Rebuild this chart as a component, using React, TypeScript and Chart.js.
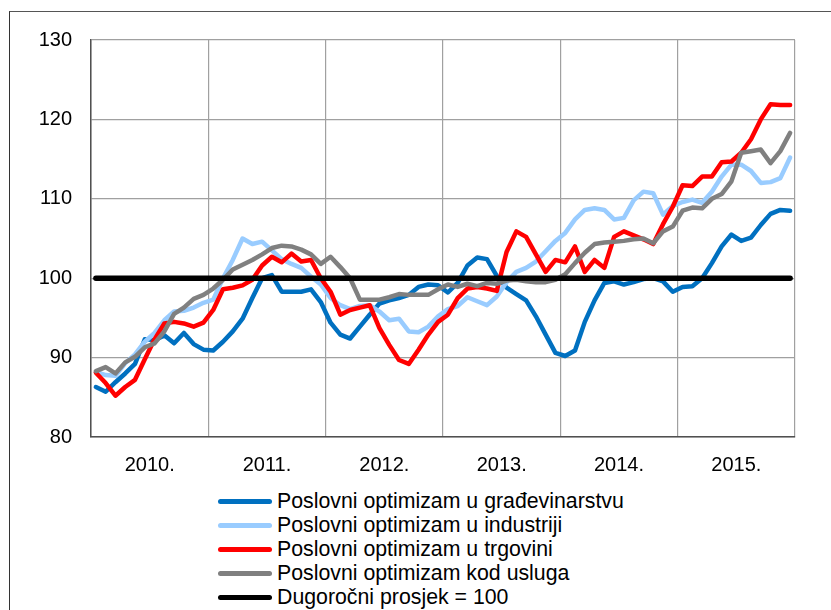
import React, { useEffect, useRef } from "react";
import { Chart, registerables } from "chart.js";

Chart.register(...registerables);

const years = ["2010.", "2011.", "2012.", "2013.", "2014.", "2015."];
const yTicks = [80, 90, 100, 110, 120, 130];

const seriesLabels = [
  "Poslovni optimizam u građevinarstvu",
  "Poslovni optimizam u industriji",
  "Poslovni optimizam u trgovini",
  "Poslovni optimizam kod usluga",
  "Dugoročni prosjek = 100",
];
const seriesColors = ["#0070C0", "#99CCFF", "#FF0000", "#808080", "#000000"];

const gradjevinarstvo = [
  86.3, 85.7, 86.9, 88.0, 89.2, 92.3, 92.2, 92.8, 91.8, 93.1, 91.7, 91.0,
  90.9, 92.0, 93.3, 94.9, 97.5, 100.0, 100.4, 98.3, 98.3, 98.3, 98.6, 97.0,
  94.4, 92.9, 92.4, 93.9, 95.4, 96.8, 97.2, 97.5, 97.9, 98.9, 99.2, 99.1,
  98.2, 99.4, 101.6, 102.6, 102.4, 100.3, 98.8, 98.0, 97.2, 95.2, 92.9, 90.6,
  90.2, 90.9, 94.5, 97.2, 99.4, 99.6, 99.2, 99.5, 99.9, 100.0, 99.6, 98.3,
  98.9, 99.0, 100.0, 101.9, 104.0, 105.5, 104.7, 105.1, 106.7, 108.1, 108.6, 108.5,
];
const industrija = [
  88.2, 87.8, 87.7, 89.3, 90.4, 92.0, 93.1, 94.7, 95.8, 95.9, 96.3, 96.9,
  97.3, 100.0, 102.3, 105.0, 104.3, 104.6, 103.5, 102.4, 101.8, 101.3, 100.2, 99.2,
  97.5, 96.6, 96.1, 96.5, 96.6, 95.8, 94.7, 94.9, 93.3, 93.2, 93.9, 95.2,
  96.1, 96.5, 97.6, 97.1, 96.6, 97.7, 99.5, 100.8, 101.3, 102.1, 103.4, 104.7,
  105.7, 107.4, 108.6, 108.8, 108.6, 107.4, 107.6, 109.8, 110.9, 110.7, 108.0, 109.1,
  109.6, 109.9, 109.5, 110.9, 112.8, 114.3, 114.3, 113.5, 112.0, 112.1, 112.6, 115.2,
];
const trgovina = [
  88.1, 86.8, 85.2, 86.3, 87.2, 89.8, 92.3, 94.3, 94.5, 94.3, 93.9, 94.4,
  96.0, 98.6, 98.8, 99.1, 99.8, 101.6, 102.7, 102.0, 103.1, 102.1, 102.3, 100.0,
  98.3, 95.4, 96.0, 96.3, 96.6, 93.7, 91.6, 89.7, 89.2, 91.0, 92.9, 94.5,
  95.4, 97.5, 98.7, 98.9, 98.7, 98.4, 103.3, 105.9, 105.2, 103.0, 100.8, 102.3,
  102.0, 104.0, 100.8, 102.3, 101.3, 105.2, 105.9, 105.4, 104.9, 104.3, 106.8, 109.0,
  111.7, 111.6, 112.8, 112.8, 114.6, 114.7, 115.8, 117.5, 120.0, 121.9, 121.8, 121.8,
];
const usluge = [
  88.3, 88.8, 88.0, 89.4, 90.1, 91.3, 91.8, 93.3, 95.5, 96.3, 97.4, 97.9,
  98.7, 99.8, 101.1, 101.7, 102.3, 103.0, 103.8, 104.1, 104.0, 103.6, 103.0, 101.8,
  102.7, 101.4, 100.0, 97.3, 97.3, 97.3, 97.6, 98.0, 97.9, 97.9, 97.9, 98.6,
  99.2, 98.9, 99.3, 99.0, 99.4, 99.3, 99.7, 99.8, 99.6, 99.5, 99.5, 99.8,
  100.5, 101.9, 103.2, 104.3, 104.5, 104.6, 104.7, 104.9, 105.0, 104.4, 105.9, 106.5,
  108.5, 108.9, 108.8, 110.0, 110.6, 112.2, 115.8, 116.0, 116.2, 114.5, 116.0, 118.3,
];
const prosjek = gradjevinarstvo.map(() => 100);

const allSeries = [gradjevinarstvo, industrija, trgovina, usluge, prosjek];

const FONT = "'Liberation Sans', Arial, sans-serif";

export default function App() {
  const ref = useRef<HTMLCanvasElement | null>(null);

  useEffect(() => {
    if (!ref.current) return;
    const chart = new Chart(ref.current, {
      type: "line",
      data: {
        datasets: allSeries.map((vals, s) => ({
          label: seriesLabels[s],
          data: vals.map((v, i) => ({ x: i + 0.5, y: v })),
          borderColor: seriesColors[s],
          backgroundColor: seriesColors[s],
          borderWidth: s === 4 ? 5.5 : 4.5,
          pointRadius: 0,
          tension: 0,
          borderCapStyle: "round",
          borderJoinStyle: "round",
          order: 5 - s,
        })),
      },
      options: {
        responsive: false,
        animation: false,
        layout: { padding: { left: 0, right: 36, top: 40, bottom: 0 } },
        plugins: { legend: { display: false }, tooltip: { enabled: false } },
        scales: {
          x: {
            type: "linear",
            min: 0,
            max: 72,
            afterFit: (axis: any) => {
              axis.height = 43;
            },
            afterBuildTicks: (axis: any) => {
              const t = [];
              for (let v = 0; v <= 72; v += 6) t.push({ value: v });
              axis.ticks = t;
            },
            ticks: {
              autoSkip: false,
              maxRotation: 0,
              padding: 16,
              color: "#000",
              font: { family: FONT, size: 20 },
              callback: (v: any) => {
                const n = Number(v);
                return n % 12 === 6 ? years[(n - 6) / 12] : "";
              },
            },
            grid: {
              drawTicks: false,
              color: (ctx: any) =>
                ctx.tick && ctx.tick.value % 12 === 0 ? "#a0a0a0" : "rgba(0,0,0,0)",
              lineWidth: 1.2,
            },
            border: { display: true, color: "#505050", width: 1.5 },
          },
          y: {
            min: 80,
            max: 130,
            afterFit: (axis: any) => {
              axis.width = 91;
            },
            afterBuildTicks: (axis: any) => {
              axis.ticks = yTicks.map((v) => ({ value: v }));
            },
            ticks: {
              padding: 19,
              color: "#000",
              font: { family: FONT, size: 20 },
            },
            grid: { drawTicks: false, color: "#a0a0a0", lineWidth: 1.2 },
            border: { display: true, color: "#505050", width: 1.5 },
          },
        },
      },
    });
    return () => chart.destroy();
  }, []);

  return (
    <div
      style={{
        position: "fixed",
        left: 0,
        top: 0,
        width: 831,
        height: 610,
        overflow: "hidden",
        background: "#fff",
        fontFamily: FONT,
      }}
    >
      <div
        style={{
          position: "absolute",
          left: 9,
          top: 11,
          width: 900,
          height: 700,
          borderLeft: "1.5px solid #333",
          borderTop: "1.5px solid #555",
        }}
      />
      <canvas
        ref={ref}
        width={831}
        height={480}
        style={{ position: "absolute", left: 0, top: 0, width: 831, height: 480 }}
      />
      <div style={{ position: "absolute", left: 218, top: 489 }}>
        {seriesLabels.map((lab, s) => (
          <div
            key={lab}
            style={{ display: "flex", alignItems: "center", height: 24, whiteSpace: "nowrap" }}
          >
            <span
              style={{
                display: "inline-block",
                width: 54,
                height: 5,
                borderRadius: 3,
                background: seriesColors[s],
                marginRight: 5,
              }}
            />
            <span style={{ fontSize: 21.3, lineHeight: "24px", color: "#000" }}>{lab}</span>
          </div>
        ))}
      </div>
    </div>
  );
}
